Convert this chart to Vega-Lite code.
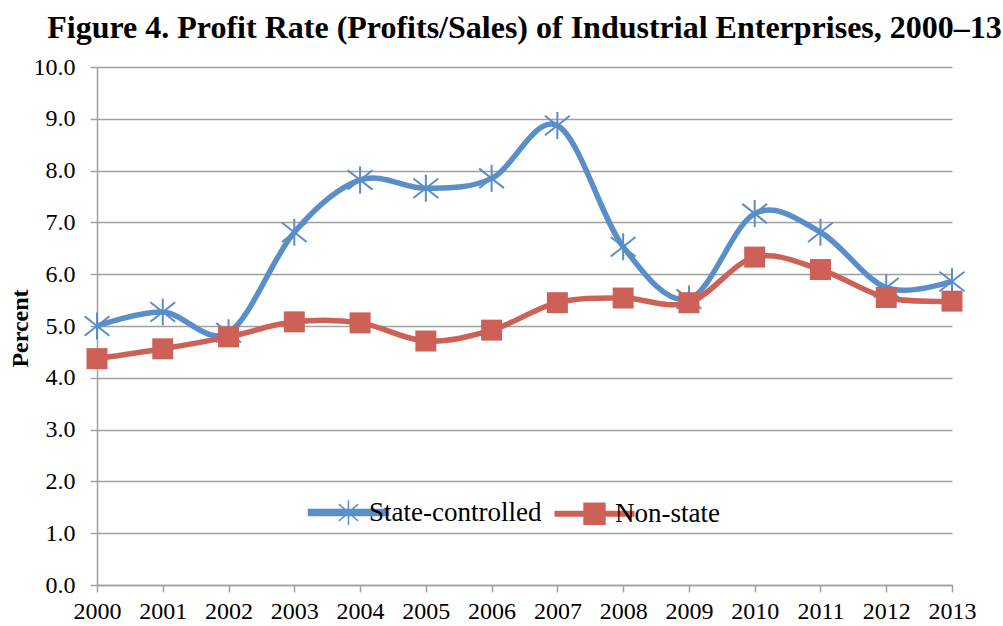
{
  "$schema": "https://vega.github.io/schema/vega-lite/v6.json",
  "width": 855,
  "height": 518,
  "autosize": {"type": "none"},
  "padding": {"left": 97, "top": 67, "right": 51, "bottom": 41},
  "background": "white",
  "title": {
    "text": "Figure 4. Profit Rate (Profits/Sales) of Industrial Enterprises, 2000–13",
    "font": "Liberation Serif, Times New Roman, serif",
    "fontSize": 32,
    "fontWeight": "bold",
    "color": "#000000",
    "anchor": "middle",
    "baseline": "alphabetic",
    "offset": -15
  },
  "config": {
    "view": {"stroke": null},
    "axis": {
      "labelFont": "Liberation Serif, Times New Roman, serif",
      "labelFontSize": 24,
      "labelColor": "#000000",
      "domainColor": "#A0A0A0",
      "domainWidth": 1.5,
      "tickColor": "#A0A0A0",
      "tickWidth": 1.5,
      "tickSize": 7,
      "gridColor": "#A0A0A0",
      "gridWidth": 1.5
    }
  },
  "data": {
    "values": [
      {"year": 2000, "series": "State-controlled", "value": 5.0},
      {"year": 2001, "series": "State-controlled", "value": 5.27},
      {"year": 2002, "series": "State-controlled", "value": 4.87},
      {"year": 2003, "series": "State-controlled", "value": 6.81},
      {"year": 2004, "series": "State-controlled", "value": 7.82},
      {"year": 2005, "series": "State-controlled", "value": 7.66},
      {"year": 2006, "series": "State-controlled", "value": 7.85},
      {"year": 2007, "series": "State-controlled", "value": 8.87},
      {"year": 2008, "series": "State-controlled", "value": 6.53},
      {"year": 2009, "series": "State-controlled", "value": 5.52},
      {"year": 2010, "series": "State-controlled", "value": 7.17},
      {"year": 2011, "series": "State-controlled", "value": 6.81},
      {"year": 2012, "series": "State-controlled", "value": 5.74},
      {"year": 2013, "series": "State-controlled", "value": 5.86},
      {"year": 2000, "series": "Non-state", "value": 4.37},
      {"year": 2001, "series": "Non-state", "value": 4.56},
      {"year": 2002, "series": "Non-state", "value": 4.79},
      {"year": 2003, "series": "Non-state", "value": 5.08},
      {"year": 2004, "series": "Non-state", "value": 5.06},
      {"year": 2005, "series": "Non-state", "value": 4.71},
      {"year": 2006, "series": "Non-state", "value": 4.92},
      {"year": 2007, "series": "Non-state", "value": 5.45},
      {"year": 2008, "series": "Non-state", "value": 5.54},
      {"year": 2009, "series": "Non-state", "value": 5.45},
      {"year": 2010, "series": "Non-state", "value": 6.33},
      {"year": 2011, "series": "Non-state", "value": 6.09},
      {"year": 2012, "series": "Non-state", "value": 5.55},
      {"year": 2013, "series": "Non-state", "value": 5.48}
    ]
  },
  "encoding": {
    "x": {
      "field": "year",
      "type": "ordinal",
      "scale": {"type": "point", "padding": 0},
      "axis": {"title": null, "labelAngle": 0, "labelPadding": 7, "grid": false}
    },
    "y": {
      "field": "value",
      "type": "quantitative",
      "scale": {"domain": [0, 10], "nice": false},
      "axis": {
        "title": "Percent",
        "titleFont": "Liberation Serif, Times New Roman, serif",
        "titleFontSize": 24,
        "titleFontWeight": "bold",
        "titleColor": "#000000",
        "titleAngle": -90,
        "titleBaseline": "alphabetic",
        "titleX": -70,
        "titleY": 261,
        "values": [0, 1, 2, 3, 4, 5, 6, 7, 8, 9, 10],
        "format": ".1f",
        "labelPadding": 15,
        "grid": true
      }
    }
  },
  "layer": [
    {
      "mark": {"type": "line", "interpolate": "cardinal", "strokeWidth": 5.5},
      "encoding": {
        "color": {
          "field": "series",
          "type": "nominal",
          "sort": ["State-controlled", "Non-state"],
          "scale": {"domain": ["State-controlled", "Non-state"], "range": ["#5A8EC8", "#CD6057"]},
          "legend": {
            "title": null,
            "orient": "none",
            "direction": "horizontal",
            "legendX": 238,
            "legendY": 432,
            "padding": 0,
            "symbolSize": 6400,
            "labelFont": "Liberation Serif, Times New Roman, serif",
            "labelFontSize": 27,
            "labelLimit": 0,
            "labelColor": "#000000",
            "labelOffset": 7,
            "columnPadding": 12,
            "encode": {
              "symbols": {
                "update": {
                  "size": {"value": 6400},
                  "shape": {"signal": "datum.value === 'State-controlled' ? 'M-1,-0.075H1V0.075H-1ZM-0.24,-0.21L0.24,0.21M-0.24,0.21L0.24,-0.21M0,-0.31V0.31' : 'M-1,-0.075H1V0.075H-1ZM-0.28,-0.28H0.28V0.28H-0.28Z'"},
                  "fill": {"signal": "datum.value === 'State-controlled' ? '#5A8EC8' : '#CD6057'"},
                  "stroke": {"signal": "datum.value === 'State-controlled' ? '#5A8EC8' : '#CD6057'"},
                  "strokeWidth": {"signal": "datum.value === 'State-controlled' ? 1.5 : 0"},
                  "opacity": {"value": 1}
                }
              }
            }
          }
        }
      }
    },
    {
      "transform": [{"filter": "datum.series === 'State-controlled'"}],
      "mark": {
        "type": "point",
        "shape": "M-0.92,-0.72L0.92,0.72M-0.92,0.72L0.92,-0.72M0,-1V1",
        "size": 729,
        "filled": false,
        "stroke": "#5A8EC8",
        "strokeWidth": 2,
        "opacity": 1
      }
    },
    {
      "transform": [{"filter": "datum.series === 'Non-state'"}],
      "mark": {
        "type": "point",
        "shape": "square",
        "size": 441,
        "filled": true,
        "color": "#CD6057",
        "opacity": 1
      }
    }
  ]
}
